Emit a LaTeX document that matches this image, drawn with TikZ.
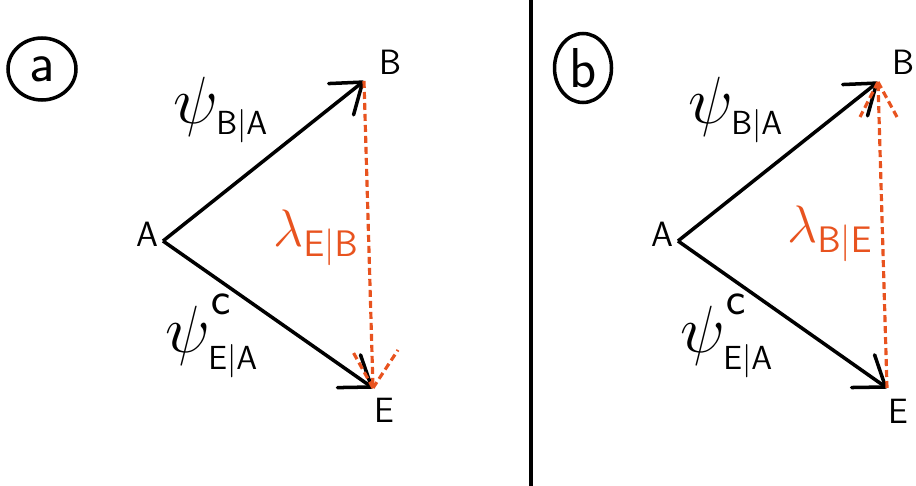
\RequirePackage{fix-cm}
\documentclass[tikz,border=0pt]{standalone}
\usetikzlibrary{arrows.meta,shapes.geometric}
\definecolor{lamorange}{HTML}{E8531F}
\newcommand{\supc}{\raisebox{0.5ex}{$\scriptstyle\mathsf{c}$}}
\tikzset{
  vec/.style={line width=2pt,-{Straight Barb[length=5.5mm,width=8mm,round]}},
  lam/.style={lamorange,line width=1.8pt,dash pattern=on 1.4mm off 0.8mm},
  pt/.style={font=\sffamily\fontsize{20}{22}\selectfont},
  psilab/.style={font=\fontsize{38}{42}\selectfont,inner sep=0pt},
  lamlab/.style={text=lamorange,font=\fontsize{30}{34}\selectfont},
  tag/.style={draw,ellipse,line width=2pt,inner sep=0pt,font=\sffamily\fontsize{32}{36}\selectfont},
}
\begin{document}
\begin{tikzpicture}[x=0.02cm,y=-0.02cm]
  \useasboundingbox (0,0) rectangle (916,486);
  % divider
  \coordinate (top) at (531,0);
  \coordinate (bot) at (531,486);
  \draw[line width=2pt] (top) -- (bot);
  % panel a
  \node[tag,minimum width=1.36cm,minimum height=1.24cm] (taga) at (42,69) {a};
  \coordinate (Aa) at (163,241);
  \coordinate (Ba) at (364,81);
  \coordinate (Ea) at (373,388);
  \draw[vec] (Aa) -- (Ba);
  \draw[vec] (Aa) -- (Ea);
  \draw[lam] (Ba) -- (Ea);
  \draw[lam] (Ea) -- ++(-20,-36);
  \draw[lam] (Ea) -- ++(25,-38);
  \node[pt] (labAa) at (147,234) {A};
  \node[pt] (labBa) at (390,62) {B};
  \node[pt] (labEa) at (384,410) {E};
  \node[psilab] (psiBAa) at (221,110) {$\psi_{\scriptscriptstyle\mathsf{B|A}}$};
  \node[psilab] (psiEAa) at (212,336) {$\psi_{\scriptscriptstyle\mathsf{E|A}}^{\supc}$};
  \node[lamlab] (lamEBa) at (316,238) {$\lambda_{\mathsf{E|B}}$};
  % panel b
  \node[tag,minimum width=1.14cm,minimum height=1.38cm] (tagb) at (583,68) {b};
  \coordinate (Ab) at (678,241);
  \coordinate (Bb) at (878,82);
  \coordinate (Eb) at (887,388);
  \draw[vec] (Ab) -- (Bb);
  \draw[vec] (Ab) -- (Eb);
  \draw[lam] (Eb) -- (Bb);
  \draw[lam] (Bb) -- ++(-18,35);
  \draw[lam] (Bb) -- ++(19,35);
  \node[pt] (labAb) at (662,234) {A};
  \node[pt] (labBb) at (903,62) {B};
  \node[pt] (labEb) at (898,411) {E};
  \node[psilab] (psiBAb) at (736,110) {$\psi_{\scriptscriptstyle\mathsf{B|A}}$};
  \node[psilab] (psiEAb) at (727,336) {$\psi_{\scriptscriptstyle\mathsf{E|A}}^{\supc}$};
  \node[lamlab] (lamBEb) at (830,234) {$\lambda_{\mathsf{B|E}}$};
\end{tikzpicture}
\end{document}
